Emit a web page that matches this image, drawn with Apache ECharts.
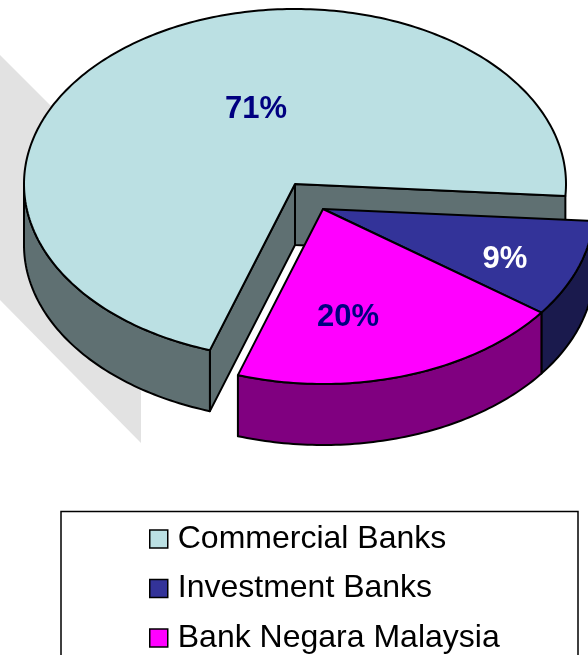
<!DOCTYPE html>
<html>
<head>
<meta charset="utf-8">
<script src="https://cdn.jsdelivr.net/npm/echarts@6/dist/echarts.min.js"></script>
<style>
  html, body { margin: 0; padding: 0; background: #fff; }
  #chart { width: 588px; height: 655px; }
</style>
</head>
<body>
<div id="chart"></div>
<script>
const categories = ["Commercial Banks", "Investment Banks", "Bank Negara Malaysia"];
const shares = [71, 9, 20];

const topColors = ["#BBE0E3", "#333399", "#FF00FF"];
const wallColors = ["#5F7072", "#1A1A4D", "#800080"];
const labelColors = ["#000080", "#FFFFFF", "#000080"];

// flattened disc, everything
const center = [295, 184];
const rx = 271, ry = 175, depth = 61;
const explode = [[0, 0], [28, 25], [28, 25]];
const startAngle = 108.3; // degrees, clockwise on screen, where Commercial Banks begins
const labelAt = [[256, 109], [505, 259], [348, 317]];

const total = shares.reduce((a, b) => a + b, 0);

// slices go clockwise: Commercial, Investment, then Bank Negara back to the start
function sliceRange(i) {
  let from = startAngle;
  for (let k = 0; k < i; k++) from += shares[k] / total * 360;
  return [from, from + shares[i] / total * 360];
}

function rimPoint(cx, cy, deg, drop) {
  const a = deg * Math.PI / 180;
  return [cx + rx * Math.cos(a), cy + ry * Math.sin(a) + drop];
}

function rim(cx, cy, from, to, drop) {
  const pts = [];
  for (let d = from; d < to; d += 1) pts.push(rimPoint(cx, cy, d, drop));
  pts.push(rimPoint(cx, cy, to, drop));
  return pts;
}

function poly(points, fill) {
  return {
    type: "polygon",
    shape: { points: points },
    style: { fill: fill, stroke: "#000", lineWidth: 2, lineJoin: "round" }
  };
}

function renderSlice(i) {
  return function (params, api) {
    const share = api.value(0);
    let from = sliceRange(i)[0];
    if (from >= 360) from -= 360;
    const to = from + share / total * 360;
    const cx = center[0] + explode[i][0];
    const cy = center[1] + explode[i][1];
    const children = [];

    // cut faces of the big slice, seen through the gap
    if (i === 0) {
      const a = rimPoint(cx, cy, from, 0), b = rimPoint(cx, cy, to, 0);
      children.push(poly([[cx, cy], b, [b[0], b[1] + depth], [cx, cy + depth]], wallColors[i]));
      children.push(poly([[cx, cy], a, [a[0], a[1] + depth], [cx, cy + depth]], wallColors[i]));
    }
    // outer wall only shows on the front half of the disc
    const wallFrom = Math.max(from, 0);
    const wallTo = Math.min(to, 180);
    if (wallTo > wallFrom) {
      const upper = rim(cx, cy, wallFrom, wallTo, 0);
      const lower = rim(cx, cy, wallFrom, wallTo, depth).reverse();
      children.push(poly(upper.concat(lower), wallColors[i]));
    }
    children.push(poly([[cx, cy]].concat(rim(cx, cy, from, to, 0)), topColors[i]));
    children.push({
      type: "text",
      style: {
        text: share + "%",
        x: labelAt[i][0],
        y: labelAt[i][1],
        align: "center",
        verticalAlign: "middle",
        fill: labelColors[i],
        font: "bold 31px 'Liberation Sans', Arial, sans-serif"
      }
    });
    return { type: "group", children: children };
  };
}

const chart = echarts.init(document.getElementById("chart"), null, { renderer: "canvas" });

chart.setOption({
  animation: false,
  backgroundColor: "#fff",
  graphic: [
    {
      type: "polygon",
      z: 0,
      shape: { points: [[0, 55], [120, 175], [141, 392], [141, 443], [0, 300]] },
      style: { fill: "#E2E2E2" },
      silent: true
    },
    {
      type: "rect",
      z: 0,
      shape: { x: 61, y: 511.5, width: 517, height: 160 },
      style: { fill: "#fff", stroke: "#000", lineWidth: 1.5 },
      silent: true
    }
  ],
  legend: {
    orient: "vertical",
    left: 149,
    top: 523,
    padding: 0,
    itemWidth: 18,
    itemHeight: 18,
    itemGap: 17.5,
    icon: "rect",
    selectedMode: false,
    z: 5,
    data: categories,
    itemStyle: { borderColor: "#000", borderWidth: 1.5 },
    textStyle: {
      color: "#000",
      fontFamily: "'Liberation Sans', Arial, sans-serif",
      fontSize: 32,
      padding: [0, 0, 0, 5]
    }
  },
  series: categories.map((name, i) => ({
    type: "custom",
    name: name,
    coordinateSystem: "none",
    silent: true,
    z: 2 + i,
    clip: false,
    itemStyle: { color: topColors[i] },
    data: [[shares[i]]],
    renderItem: renderSlice(i)
  }))
});
</script>
</body>
</html>
